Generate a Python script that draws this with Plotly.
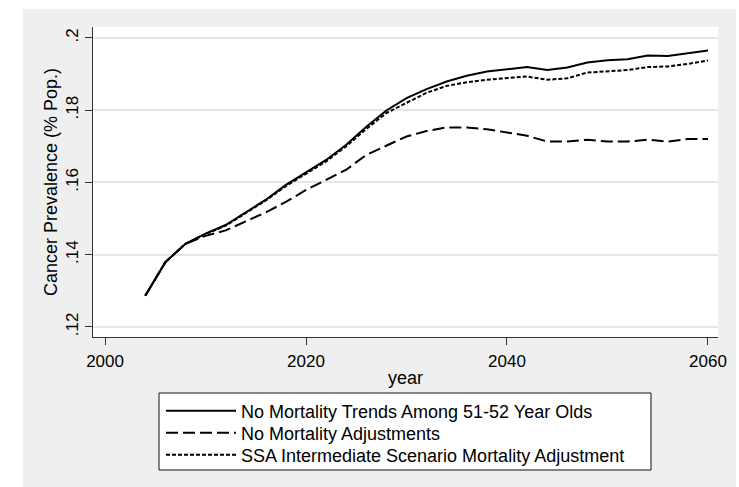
import plotly.graph_objects as go

# Projection years (biennial)
years = list(range(2004, 2061, 2))

# Cancer prevalence (share of population) under three mortality assumptions
no_trends_51_52 = [
    0.1286, 0.1379, 0.1430, 0.1458, 0.1482, 0.1516, 0.1552, 0.1593, 0.1627, 0.1662,
    0.1704, 0.1754, 0.1799, 0.1833, 0.1858, 0.1879, 0.1895, 0.1907, 0.1913, 0.1919,
    0.1911, 0.1918, 0.1932, 0.1938, 0.1941, 0.1951, 0.1950, 0.1957, 0.1965,
]
no_mortality_adj = [
    0.1286, 0.1379, 0.1430, 0.1452, 0.1467, 0.1492, 0.1517, 0.1546, 0.1579, 0.1607,
    0.1635, 0.1676, 0.1701, 0.1727, 0.1742, 0.1752, 0.1752, 0.1747, 0.1738, 0.1729,
    0.1713, 0.1713, 0.1718, 0.1713, 0.1713, 0.1718, 0.1713, 0.1720, 0.1720,
]
ssa_intermediate = [
    0.1286, 0.1379, 0.1430, 0.1457, 0.1480, 0.1514, 0.1550, 0.1590, 0.1623, 0.1658,
    0.1700, 0.1748, 0.1792, 0.1821, 0.1848, 0.1867, 0.1877, 0.1884, 0.1889, 0.1893,
    0.1884, 0.1888, 0.1904, 0.1908, 0.1911, 0.1919, 0.1921, 0.1928, 0.1937,
]

series_names = [
    "No Mortality Trends Among 51-52 Year Olds",
    "No Mortality Adjustments",
    "SSA Intermediate Scenario Mortality Adjustment",
]

y_tick_vals = [0.12, 0.14, 0.16, 0.18, 0.20]
y_tick_text = [".12", ".14", ".16", ".18", ".2"]
x_tick_vals = [2000, 2020, 2040, 2060]

FONT = "Liberation Sans, Arial, sans-serif"
AXIS_COLOR = "#333333"
PAPER_GRAY = "#efefef"

# Plot-area geometry in pixels
W, H = 739, 487
L, R, T, B = 93, 21, 27, 150
pw, ph = W - L - R, H - T - B


def px_x(x):
    return (x - L) / pw


def px_y(y):
    return (H - B - y) / ph


fig = go.Figure()
styles = [
    dict(color="black", width=2, dash="solid"),
    dict(color="black", width=2, dash="12px,5px"),
    dict(color="black", width=2, dash="4px,2px"),
]
legend_ids = ["legend", "legend2", "legend3"]
for name, vals, st, lg in zip(series_names, [no_trends_51_52, no_mortality_adj, ssa_intermediate],
                              styles, legend_ids):
    fig.add_trace(go.Scatter(x=years, y=vals, mode="lines", name=name, line=st, legend=lg))

shapes = [
    # thin white border around the gray page
    dict(type="rect", xref="paper", yref="paper", x0=px_x(0), x1=px_x(23), y0=px_y(H), y1=px_y(0),
         fillcolor="white", line_width=0, layer="below"),
    dict(type="rect", xref="paper", yref="paper", x0=px_x(0), x1=px_x(W), y0=px_y(9), y1=px_y(0),
         fillcolor="white", line_width=0, layer="below"),
    dict(type="rect", xref="paper", yref="paper", x0=px_x(736), x1=px_x(W), y0=px_y(H), y1=px_y(0),
         fillcolor="white", line_width=0, layer="below"),
    # gray band along the bottom edge of the page
    dict(type="rect", xref="paper", yref="paper", x0=px_x(23), x1=px_x(736), y0=px_y(H), y1=px_y(470),
         fillcolor=PAPER_GRAY, line_width=0, layer="below"),
    # legend box
    dict(type="rect", xref="paper", yref="paper", x0=px_x(159), x1=px_x(651), y0=px_y(470), y1=px_y(393),
         fillcolor="white", line=dict(color="#111111", width=1), layer="below"),
]

legend_font = dict(family=FONT, size=18, color="black")
row_centers = [411, 433, 455]


def legend_at(yc):
    return dict(
        x=px_x(161), y=px_y(yc), xanchor="left", yanchor="middle",
        bgcolor="rgba(0,0,0,0)", borderwidth=0,
        font=legend_font, itemwidth=70, tracegroupgap=0,
    )


fig.update_layout(
    width=W, height=H,
    margin=dict(l=L, r=R, t=T, b=B, pad=0),
    paper_bgcolor=PAPER_GRAY,
    plot_bgcolor="white",
    font=dict(family=FONT, size=17, color="black"),
    shapes=shapes,
    showlegend=True,
    legend=legend_at(row_centers[0]),
    legend2=legend_at(row_centers[1]),
    legend3=legend_at(row_centers[2]),
    xaxis=dict(
        range=[1998.8, 2061.0], tickvals=x_tick_vals,
        showline=True, linecolor=AXIS_COLOR, linewidth=1,
        ticks="outside", ticklen=7, tickcolor=AXIS_COLOR,
        ticklabelstandoff=2,
        showgrid=False, zeroline=False,
        tickfont=dict(family=FONT, size=17),
        title=dict(text="year", font=dict(family=FONT, size=18), standoff=0),
    ),
    yaxis=dict(
        range=[0.1172, 0.2030], tickvals=y_tick_vals, ticktext=y_tick_text,
        tickangle=-90,
        showline=True, linecolor=AXIS_COLOR, linewidth=1,
        ticks="outside", ticklen=7, tickcolor=AXIS_COLOR,
        showgrid=True, gridcolor="#e6e6e6", gridwidth=2, zeroline=False,
        tickfont=dict(family=FONT, size=17),
        title=dict(text="Cancer Prevalence (% Pop.)", font=dict(family=FONT, size=18), standoff=0),
    ),
)

fig.write_html("out.html")
